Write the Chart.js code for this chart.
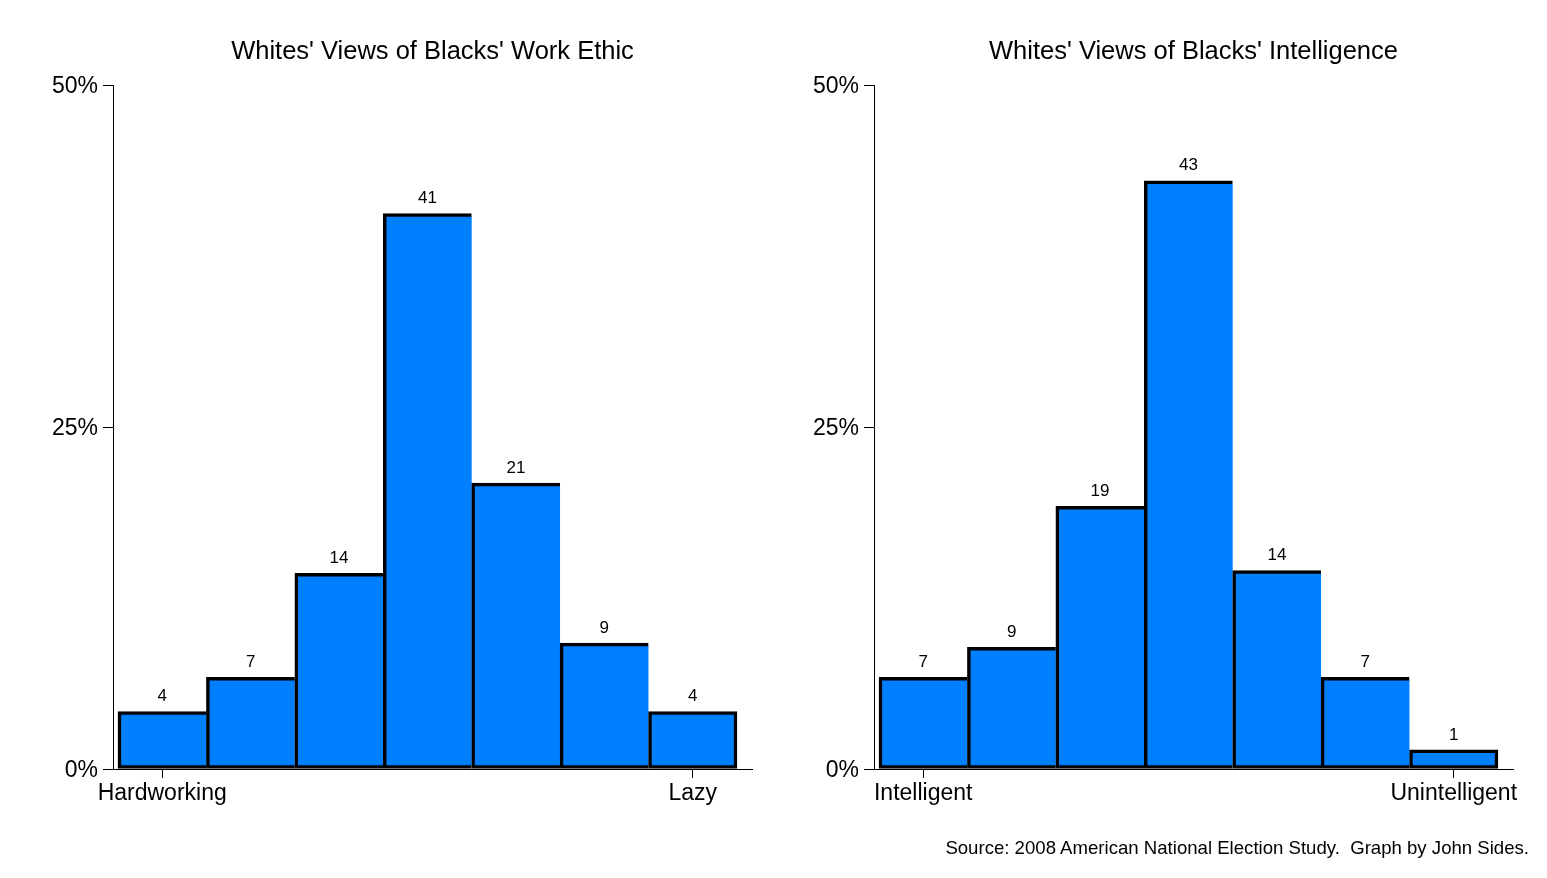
<!DOCTYPE html>
<html lang="en">
<head>
<meta charset="UTF-8">
<title>Whites' Views of Blacks</title>
<script src="https://cdn.jsdelivr.net/npm/chart.js"></script>
<style>
    body { margin: 0; background: #fff; font-family: "Liberation Sans", Arial, sans-serif; }
    #wrap { position: relative; width: 1547px; height: 878px; }
    canvas { position: absolute; top: 0; }
    #workCanvas { left: 0; }
    #intelCanvas { left: 761px; }
    #source { position: absolute; right: 18px; top: 839px; font-size: 18.6px; line-height: 18px; color: #000; white-space: pre; }
</style>
</head>
<body>
<div id="wrap">
    <canvas id="workCanvas" width="761" height="878"></canvas>
    <canvas id="intelCanvas" width="761" height="878"></canvas>
    <div id="source">Source: 2008 American National Election Study.  Graph by John Sides.</div>
</div>

<script>
    // bar positions along the 7-point scale
    const positions = [1, 2, 3, 4, 5, 6, 7];

    // work ethic (percent) and the printed labels
    const workValues = [4.2, 6.7, 14.3, 40.6, 20.9, 9.2, 4.2];
    const workLabels = ['4', '7', '14', '41', '21', '9', '4'];
    const workEnds = ['Hardworking', 'Lazy'];

    // intelligence
    const intelValues = [6.7, 8.9, 19.2, 43.0, 14.5, 6.7, 1.4];
    const intelLabels = ['7', '9', '19', '43', '14', '7', '1'];
    const intelEnds = ['Intelligent', 'Unintelligent'];

    const yTicks = [0, 25, 50];
    const endTicks = [1, 7];

    const FONT = '"Liberation Sans", Arial, sans-serif';

    // numbers above the bars
    let barLabels = {
        id: 'barLabels',
        afterDatasetsDraw: function(chart) {
            let ctx = chart.ctx;
            let ds = chart.data.datasets[0];
            ctx.save();
            ctx.font = '17px ' + FONT;
            ctx.fillStyle = '#000';
            ctx.textAlign = 'center';
            ctx.textBaseline = 'middle';
            chart.getDatasetMeta(0).data.forEach((bar, i) => {
                ctx.fillText(ds.valueLabels[i], bar.x, bar.y - 15);
            });
            ctx.restore();
        }
    };

    function makeChart(id, title, values, labels, ends) {
        return new Chart(document.getElementById(id), {
            type: 'bar',
            data: {
                datasets: [{
                    data: positions.map((p, i) => ({ x: p, y: values[i] })),
                    valueLabels: labels,
                    backgroundColor: '#0080ff',
                    borderColor: '#000',
                    borderWidth: c => ({ top: 3.5, left: 3.5, bottom: 3.5, right: c.dataIndex === positions.length - 1 ? 3.5 : 0 }),
                    borderSkipped: false,
                    barPercentage: 1,
                    categoryPercentage: 1
                }]
            },
            options: {
                responsive: false,
                animation: false,
                layout: { padding: { top: 37, right: 9, left: 0, bottom: 0 } },
                plugins: {
                    legend: { display: false },
                    tooltip: { enabled: false },
                    title: {
                        display: true,
                        text: title,
                        fullSize: false,
                        color: '#000',
                        font: { size: 25.5, weight: 'normal', family: FONT },
                        padding: { top: 0, bottom: 17.4 }
                    }
                },
                scales: {
                    x: {
                        type: 'linear',
                        min: 0.4435,
                        max: 7.67,
                        offset: false,
                        grid: { drawOnChartArea: false, offset: false, tickLength: 9, tickColor: '#000' },
                        border: { display: true, color: '#000', width: 1 },
                        ticks: {
                            color: '#000',
                            font: { size: 23, family: FONT },
                            padding: 2,
                            maxRotation: 0,
                            callback: (v, i) => ends[i]
                        },
                        afterBuildTicks: s => { s.ticks = endTicks.map(v => ({ value: v })); },
                        afterFit: s => { s.height = 109; }
                    },
                    y: {
                        min: 0,
                        max: 50,
                        grid: { drawOnChartArea: false, tickLength: 10, tickColor: '#000' },
                        border: { display: true, color: '#000', width: 1 },
                        ticks: {
                            color: '#000',
                            font: { size: 23, family: FONT },
                            padding: 5,
                            labelOffset: 2,
                            callback: v => v + '%'
                        },
                        afterBuildTicks: s => { s.ticks = yTicks.map(v => ({ value: v })); },
                        afterFit: s => { s.width = 113; }
                    }
                }
            },
            plugins: [barLabels]
        });
    }

    makeChart('workCanvas', "Whites' Views of Blacks' Work Ethic", workValues, workLabels, workEnds);
    makeChart('intelCanvas', "Whites' Views of Blacks' Intelligence", intelValues, intelLabels, intelEnds);
</script>
</body>
</html>
